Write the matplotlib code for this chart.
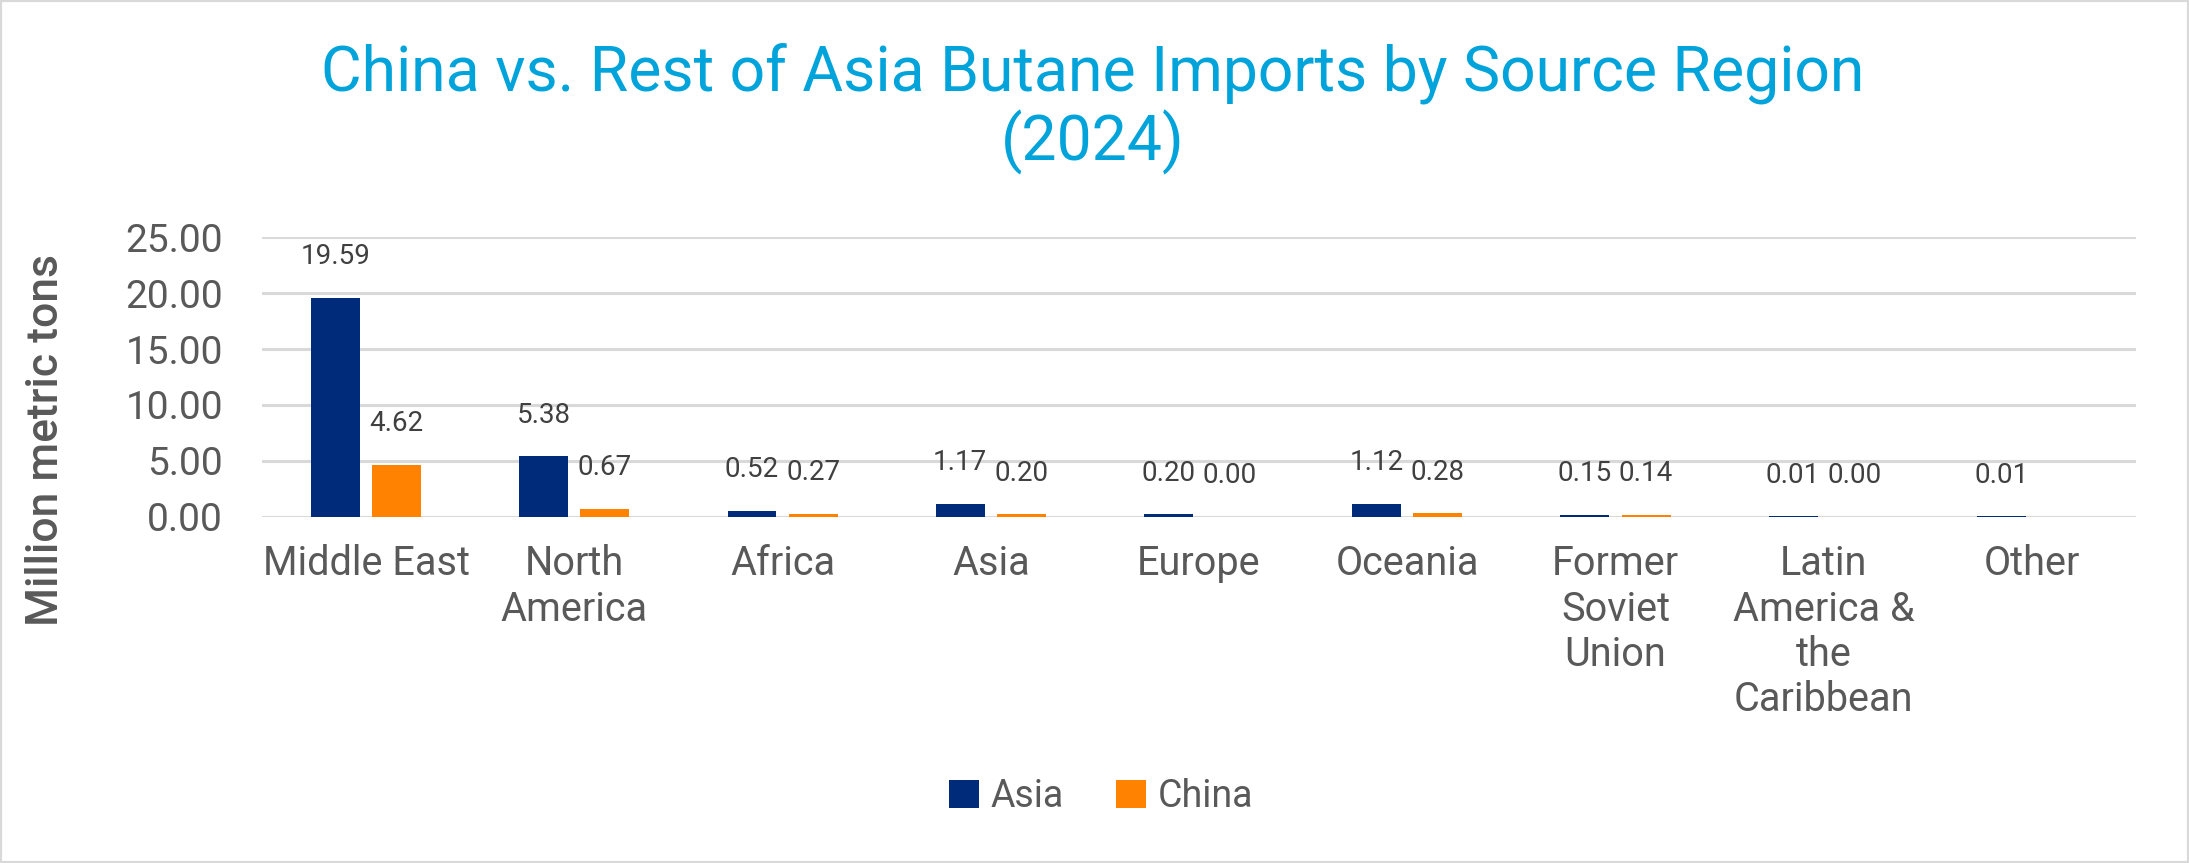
import numpy as np
import matplotlib.pyplot as plt
from matplotlib.patches import Rectangle

plt.rcParams['font.family'] = ['Roboto', 'DejaVu Sans']

regions = ['Middle East', 'North\nAmerica', 'Africa', 'Asia', 'Europe', 'Oceania',
           'Former\nSoviet\nUnion', 'Latin\nAmerica &\nthe\nCaribbean', 'Other']
asia = [19.59, 5.38, 0.52, 1.17, 0.20, 1.12, 0.15, 0.01, 0.01]
china = [4.62, 0.67, 0.27, 0.20, 0.00, 0.28, 0.14, 0.00, np.nan]
yticks = [0, 5, 10, 15, 20, 25]

NAVY = '#002B7A'
ORANGE = '#FF8200'
GREY = '#595959'
GRID = '#D9D9D9'
TITLE = '#00A3DA'


def fmt(vals):
    return ['' if np.isnan(v) else f'{v:.2f}' for v in vals]


def main():
    fig = plt.figure(figsize=(21.89, 8.63), dpi=100)
    ax = fig.add_axes([0.1197, 0.4014, 0.8561, 0.3236])

    x = np.arange(len(regions))
    w = 0.235
    off = 0.147
    b1 = ax.bar(x - off, asia, w, color=NAVY, label='Asia', zorder=3)
    b2 = ax.bar(x + off, np.nan_to_num(china), w, color=ORANGE, label='China', zorder=3)
    ax.bar_label(b1, labels=fmt(asia), padding=20, fontsize=20, color='#404040')
    ax.bar_label(b2, labels=fmt(china), padding=20, fontsize=20, color='#404040')

    # axes + grid
    ax.set_xlim(-0.5, len(regions) - 0.5)
    ax.set_ylim(0, 25)
    ax.set_yticks(yticks)
    ax.set_yticklabels([f'{t:.2f}' for t in yticks])
    ax.set_xticks(x)
    ax.set_xticklabels(regions, linespacing=1.2)
    ax.tick_params(axis='y', length=0, pad=28, labelsize=28, labelcolor=GREY)
    ax.tick_params(axis='x', length=0, pad=20, labelsize=28.5, labelcolor=GREY)
    ax.yaxis.grid(True, color=GRID, linewidth=2.2, zorder=0)
    for s in ax.spines.values():
        s.set_visible(False)

    fig.text(0.4993, 0.874, 'China vs. Rest of Asia Butane Imports by Source Region\n(2024)',
             ha='center', va='center', fontsize=45, color=TITLE, linespacing=1.1)
    fig.text(0.021, 0.49, 'Million metric tons', rotation=90, ha='center', va='center',
             fontsize=32, color=GREY, fontweight='medium')

    fig.legend(loc='center', bbox_to_anchor=(0.503, 0.077), ncol=2, frameon=False,
               fontsize=27, labelcolor=GREY, handlelength=0.8, handleheight=0.8,
               handletextpad=0.3, columnspacing=1.4)

    fig.add_artist(Rectangle((0, 0), 1, 1, transform=fig.transFigure, fill=False,
                             edgecolor=GRID, linewidth=3))

    fig.savefig('out.png', dpi=100)
    plt.close(fig)


if __name__ == '__main__':
    main()
